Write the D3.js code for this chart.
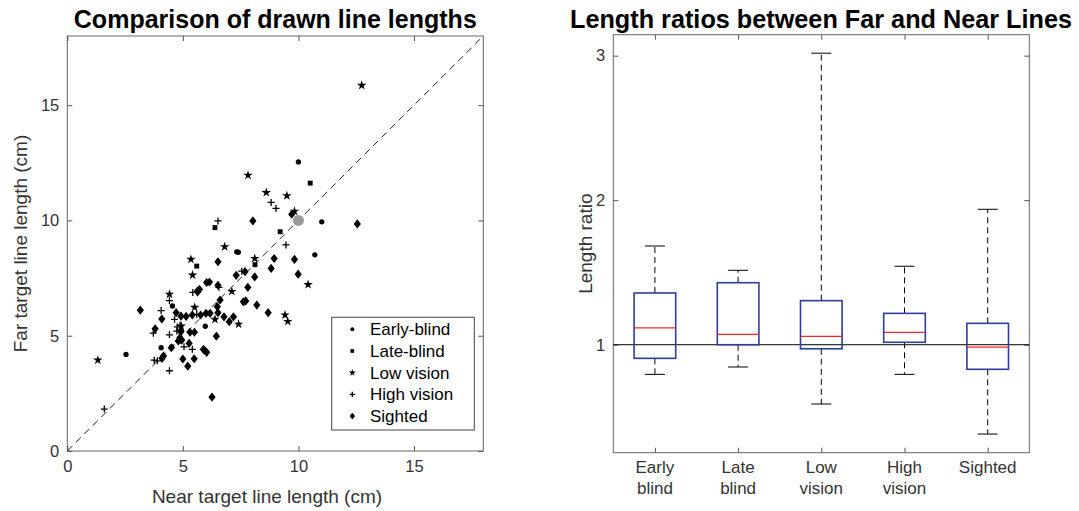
<!DOCTYPE html>
<html>
<head>
<meta charset="utf-8">
<script src="https://cdnjs.cloudflare.com/ajax/libs/d3/7.8.5/d3.min.js"></script>
<style>
body { margin: 0; background: #fff; }
text { font-family: "Liberation Sans", Arial, sans-serif; fill: #333; }
.title { font-family: "Liberation Sans Narrow", "Arial Narrow", "Liberation Sans", sans-serif; font-weight: bold; fill: #000; }
.tick text { font-size: 16.5px; fill: #333; }
.tick line { stroke: #555; }
</style>
</head>
<body>
<svg id="svg"></svg>
<script>
var width = 1079, height = 511;
var svg = d3.select("#svg").attr("width", width).attr("height", height);

// ---- scatter data: [near, far] in cm
var earlyBlind = [[10.0,12.54],[11.01,9.94],[7.33,8.64],[7.40,8.62],[10.71,8.51],[4.55,6.29],[5.97,5.41],[2.54,4.19],[4.06,4.48],[4.52,4.52]];
var lateBlind = [[10.51,11.62],[6.39,9.69],[9.21,9.51],[5.60,8.02],[8.12,8.08]];
var lowVision = [[12.74,15.86],[7.82,11.96],[8.61,11.21],[9.50,11.07],[9.83,10.40],[6.81,8.86],[5.35,8.31],[8.11,8.35],[5.42,7.63],[10.42,7.22],[7.12,6.92],[4.42,6.80],[5.51,6.23],[6.39,5.71],[7.41,5.50],[9.42,5.90],[9.54,5.62],[4.93,5.42],[1.32,3.94]];
var highVision = [[8.82,10.78],[9.03,10.52],[6.52,9.98],[9.46,8.94],[7.55,7.80],[6.56,7.10],[5.43,6.88],[4.42,6.52],[4.06,6.09],[4.64,5.71],[5.60,5.93],[4.76,5.38],[4.74,5.20],[3.72,5.11],[4.42,5.04],[5.05,4.52],[5.41,4.41],[3.76,3.94],[3.90,3.91],[4.42,3.48],[1.60,1.82],[4.88,5.45]];
var sighted = [[9.71,10.27],[8.03,9.98],[12.55,9.85],[6.52,8.21],[8.95,8.35],[9.83,8.31],[8.82,7.92],[7.69,7.78],[9.99,7.67],[7.31,7.62],[8.11,7.55],[6.03,7.31],[6.15,7.33],[6.52,7.19],[7.81,7.10],[5.63,6.94],[5.72,7.01],[6.61,6.55],[7.62,6.47],[7.72,6.51],[8.20,6.33],[8.69,6.00],[3.16,6.11],[4.71,6.00],[4.92,5.85],[5.41,5.90],[5.77,5.90],[6.00,5.97],[6.18,5.97],[6.49,6.26],[6.52,6.00],[6.78,5.82],[7.01,5.61],[7.19,5.82],[4.09,5.73],[5.14,5.84],[3.80,5.30],[4.92,5.20],[5.31,5.15],[5.50,5.15],[4.87,4.91],[4.89,4.84],[4.80,4.77],[4.95,4.81],[6.45,4.98],[5.27,4.67],[5.89,4.41],[5.96,4.35],[6.03,4.28],[4.50,4.48],[4.16,4.12],[4.10,4.02],[5.00,3.99],[5.49,4.00],[5.21,3.68],[6.26,2.34],[4.91,5.17],[5.64,6.90]];
var meanPoint = [10, 10];
var groupNames = ["Early-blind", "Late-blind", "Low vision", "High vision", "Sighted"];
var scatterTicks = [0, 5, 10, 15];

// ---- box plot data: length ratio far/near
var boxCats = ["Early blind", "Late blind", "Low vision", "High vision", "Sighted"];
var whiskerLow = [0.795, 0.846, 0.59, 0.795, 0.382];
var q1 = [0.906, 1.0, 0.972, 1.017, 0.830];
var median = [1.116, 1.072, 1.058, 1.086, 0.984];
var q3 = [1.358, 1.429, 1.305, 1.217, 1.148];
var whiskerHigh = [1.683, 1.515, 3.017, 1.543, 1.937];
var ratioTicks = [1, 2, 3];

// ================= left: scatter =================
var L = {x0: 67.3, x1: 483.3, y0: 36, y1: 451};
var x = d3.scaleLinear().domain([0, 18]).range([L.x0, L.x1]);
var y = d3.scaleLinear().domain([0, 18]).range([L.y1, L.y0]);

svg.append("rect").attr("x", L.x0).attr("y", L.y0).attr("width", L.x1 - L.x0).attr("height", L.y1 - L.y0)
	.style("fill", "none").style("stroke", "#666").style("stroke-width", 1);

function noDomain(g) { g.select(".domain").remove(); }
svg.append("g").attr("transform", "translate(0," + L.y1 + ")")
	.call(d3.axisBottom(x).tickValues(scatterTicks).tickSize(-5).tickPadding(9)).call(noDomain);
svg.append("g").attr("transform", "translate(0," + L.y0 + ")")
	.call(d3.axisTop(x).tickValues(scatterTicks).tickSize(-5).tickFormat("")).call(noDomain);
svg.append("g").attr("transform", "translate(" + L.x0 + ",0)")
	.call(d3.axisLeft(y).tickValues(scatterTicks).tickSize(-5).tickPadding(8)).call(noDomain);
svg.append("g").attr("transform", "translate(" + L.x1 + ",0)")
	.call(d3.axisRight(y).tickValues(scatterTicks).tickSize(-5).tickFormat("")).call(noDomain);

svg.append("line")
	.attr("x1", x(0)).attr("y1", y(0)).attr("x2", x(18)).attr("y2", y(18))
	.style("stroke", "#222").style("stroke-dasharray", "7,5").style("stroke-width", 1);

var shapes = [
	{data: earlyBlind, type: d3.symbolCircle, size: 22},
	{data: lateBlind, type: d3.symbolSquare, size: 24},
	{data: lowVision, type: d3.symbolStar, size: 28},
	{data: highVision, type: d3.symbolCross, size: 0},
	{data: sighted, type: d3.symbolDiamond, size: 20}
];

function drawMarker(g, i, px, py, scale) {
	var s = shapes[i];
	if (s.type === d3.symbolCross) {
		var r = 3.5 * scale;
		g.append("path")
			.attr("d", "M" + (px - r) + "," + py + "H" + (px + r) + "M" + px + "," + (py - r) + "V" + (py + r))
			.style("stroke", "#000").style("stroke-width", 1.3).style("fill", "none");
	} else {
		g.append("path")
			.attr("d", d3.symbol().type(s.type).size(s.size * scale * scale)())
			.attr("transform", "translate(" + px + "," + py + ")" + (s.type === d3.symbolDiamond ? " scale(1.5,1.1)" : ""))
			.style("fill", "#000");
	}
}

var pts = svg.append("g");
shapes.forEach(function(s, i) {
	s.data.forEach(function(d) { drawMarker(pts, i, x(d[0]), y(d[1]), 1); });
});
svg.append("circle").attr("cx", x(meanPoint[0])).attr("cy", y(meanPoint[1])).attr("r", 5.5).style("fill", "#999");

// legend
var lg = svg.append("g");
lg.append("rect").attr("x", 331.7).attr("y", 317.3).attr("width", 142.6).attr("height", 112.7)
	.style("fill", "#fff").style("stroke", "#444").style("stroke-width", 1);
groupNames.forEach(function(n, i) {
	var ly = 329.3 + i * 21.7;
	drawMarker(lg, i, 352.3, ly, 0.75);
	lg.append("text").attr("x", 370).attr("y", ly + 6).style("font-size", "17px").style("fill", "#000").text(n);
});

svg.append("text").attr("class", "title").attr("transform", "translate(275.3,28) scale(1,1.12)").attr("text-anchor", "middle")
	.attr("textLength", 403).attr("lengthAdjust", "spacingAndGlyphs")
	.style("font-size", "23px").text("Comparison of drawn line lengths");
svg.append("text").attr("x", 267).attr("y", 503).attr("text-anchor", "middle")
	.style("font-size", "19px").text("Near target line length (cm)");
svg.append("text").attr("transform", "translate(27," + ((L.y0 + L.y1) / 2) + ") rotate(-90)")
	.attr("text-anchor", "middle").style("font-size", "19px").text("Far target line length (cm)");

// ================= right: box plot =================
var R = {x0: 613.3, x1: 1029.3, y0: 34.7, y1: 452.7};
var bx = d3.scaleLinear().domain([0.5, 5.5]).range([R.x0, R.x1]);
var by = d3.scaleLinear().domain([0.253, 3.145]).range([R.y1, R.y0]);
var catIdx = boxCats.map(function(d, i) { return i + 1; });

svg.append("rect").attr("x", R.x0).attr("y", R.y0).attr("width", R.x1 - R.x0).attr("height", R.y1 - R.y0)
	.style("fill", "none").style("stroke", "#666").style("stroke-width", 1);

svg.append("g").attr("transform", "translate(0," + R.y1 + ")")
	.call(d3.axisBottom(bx).tickValues(catIdx).tickSize(-5).tickFormat("")).call(noDomain);
svg.append("g").attr("transform", "translate(0," + R.y0 + ")")
	.call(d3.axisTop(bx).tickValues(catIdx).tickSize(-5).tickFormat("")).call(noDomain);
svg.append("g").attr("transform", "translate(" + R.x0 + ",0)")
	.call(d3.axisLeft(by).tickValues(ratioTicks).tickSize(-5).tickPadding(8).tickFormat(d3.format("d"))).call(noDomain);
svg.append("g").attr("transform", "translate(" + R.x1 + ",0)")
	.call(d3.axisRight(by).tickValues(ratioTicks).tickSize(-5).tickFormat("")).call(noDomain);

boxCats.forEach(function(c, i) {
	var t = svg.append("text").attr("x", bx(i + 1)).attr("y", 473).attr("text-anchor", "middle").style("font-size", "17px");
	c.split(" ").forEach(function(w, k) {
		t.append("tspan").attr("x", bx(i + 1)).attr("dy", k === 0 ? 0 : 20.5).text(w);
	});
});

// reference line at ratio 1
svg.append("line").attr("x1", R.x0).attr("x2", R.x1).attr("y1", by(1)).attr("y2", by(1))
	.style("stroke", "#000").style("stroke-width", 1);

var bw = 0.5, cw = 0.24;
var boxes = svg.append("g");
boxCats.forEach(function(c, i) {
	var cx = i + 1;
	boxes.append("line").attr("x1", bx(cx)).attr("x2", bx(cx)).attr("y1", by(q3[i])).attr("y2", by(whiskerHigh[i]))
		.style("stroke", "#000").style("stroke-dasharray", "6,4");
	boxes.append("line").attr("x1", bx(cx)).attr("x2", bx(cx)).attr("y1", by(q1[i])).attr("y2", by(whiskerLow[i]))
		.style("stroke", "#000").style("stroke-dasharray", "6,4");
	[whiskerLow[i], whiskerHigh[i]].forEach(function(v) {
		boxes.append("line").attr("x1", bx(cx - cw / 2)).attr("x2", bx(cx + cw / 2)).attr("y1", by(v)).attr("y2", by(v))
			.style("stroke", "#000");
	});
	boxes.append("rect").attr("x", bx(cx - bw / 2)).attr("y", by(q3[i]))
		.attr("width", bx(cx + bw / 2) - bx(cx - bw / 2)).attr("height", by(q1[i]) - by(q3[i]))
		.style("fill", "none").style("stroke", "#2e3da0").style("stroke-width", 1.6);
	boxes.append("line").attr("x1", bx(cx - bw / 2)).attr("x2", bx(cx + bw / 2)).attr("y1", by(median[i])).attr("y2", by(median[i]))
		.style("stroke", "#f22").style("stroke-width", 1.2);
});

svg.append("text").attr("class", "title").attr("transform", "translate(821,28) scale(1,1.12)").attr("text-anchor", "middle")
	.attr("textLength", 502).attr("lengthAdjust", "spacingAndGlyphs")
	.style("font-size", "23px").text("Length ratios between Far and Near Lines");
svg.append("text").attr("transform", "translate(592," + ((R.y0 + R.y1) / 2) + ") rotate(-90)")
	.attr("text-anchor", "middle").style("font-size", "19px").text("Length ratio");
</script>
</body>
</html>
